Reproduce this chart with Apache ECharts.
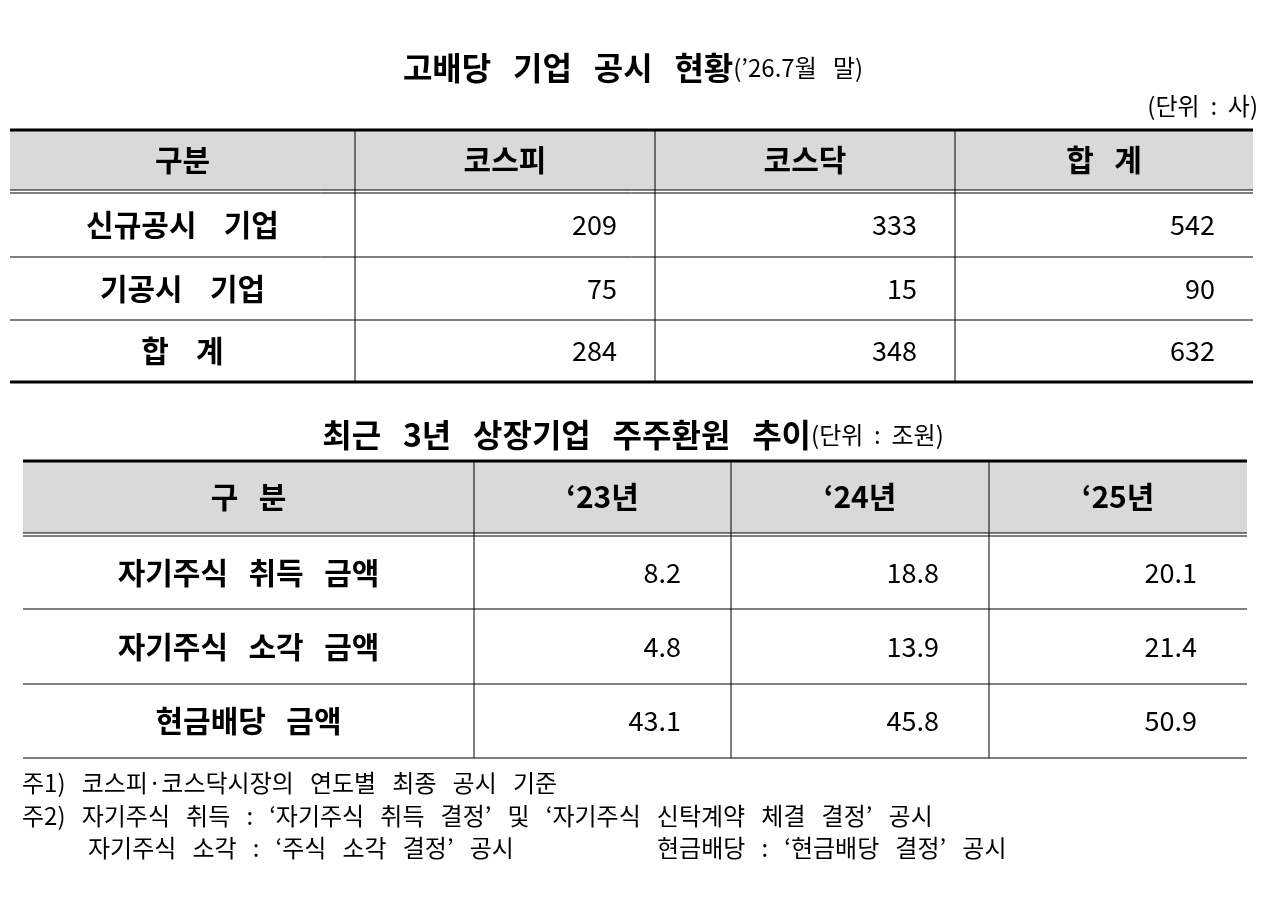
<!DOCTYPE html>
<html><head><meta charset="utf-8">
<script src="https://cdn.jsdelivr.net/npm/echarts@6/dist/echarts.min.js"></script>
<style>html,body{margin:0;padding:0;background:#fff}#c{width:1280px;height:897px}</style>
</head><body><div id="c"></div>
<script>
const t1Headers = ['구분','코스피','코스닥','합 계'];
const t1Rows = ['신규공시 기업','기공시 기업','합 계'];
const t1Kospi = [209, 75, 284];
const t1Kosdaq = [333, 15, 348];
const t1Total = [542, 90, 632];
const t2Headers = ['구 분','‘23년','‘24년','‘25년'];
const t2Rows = ['자기주식 취득 금액','자기주식 소각 금액','현금배당 금액'];
const t2Y23 = ['8.2','4.8','43.1'];
const t2Y24 = ['18.8','13.9','45.8'];
const t2Y25 = ['20.1','21.4','50.9'];
const notes = ['주1) 코스피·코스닥시장의 연도별 최종 공시 기준','주2) 자기주식 취득 : ‘자기주식 취득 결정’ 및 ‘자기주식 신탁계약 체결 결정’ 공시'];
const note3a = '자기주식 소각 : ‘주식 소각 결정’ 공시';
const note3b = '현금배당 : ‘현금배당 결정’ 공시';

const F = '"Noto Sans CJK KR","Noto Sans",sans-serif';
const sp = (s,n) => s.split(' ').join(' '.repeat(n));
const g = [];
function line(x1,y1,x2,y2,w){g.push({type:'line',shape:{x1,y1,x2,y2},style:{stroke:'#000',lineWidth:w||1}});}
function text(x,y,s,size,bold,align){g.push({type:'text',x,y,style:{text:s,font:(bold?'bold ':'')+size+'px '+F,fill:'#000',align:align||'center',verticalAlign:'middle'}});}

function table(o){
  const {x0,x1,cols,top,hb,rowsY,headers,labels,vals,rightPad}=o;
  g.push({type:'rect',shape:{x:x0,y:top,width:x1-x0,height:hb-top},style:{fill:'#d9d9d9'}});
  line(x0,top,x1,top,3);
  line(x0,hb,x1,hb,1); line(x0,hb+3,x1,hb+3,1);
  const bottom=rowsY[rowsY.length-1];
  for(let i=1;i<rowsY.length-1;i++) line(x0,rowsY[i],x1,rowsY[i],1);
  line(x0,bottom,x1,bottom,o.bottomW);
  const xs=[x0,...cols,x1];
  cols.forEach(c=>line(c,top,c,bottom,1));
  headers.forEach((h,i)=>text((xs[i]+xs[i+1])/2,(top+hb)/2,sp(h,3),30,true));
  labels.forEach((l,r)=>{
    const cy=(rowsY[r]+rowsY[r+1])/2;
    text((xs[0]+xs[1])/2,cy,sp(l,o.labelSp),30,true);
    vals.forEach((arr,c)=>text(xs[c+2]-rightPad,cy,String(arr[r]),27,false,'right'));
  });
}

g.push({type:'text',x:633,y:68,style:{rich:{a:{font:'bold 32px '+F,fill:'#000'},b:{font:'24px '+F,fill:'#000'}},text:'{a|'+sp('고배당 기업 공시 현황',3)+'}{b|'+sp('(’26.7월 말)',3)+'}',align:'center',verticalAlign:'middle'}});
text(1258,106,sp('(단위 : 사)',2),24,false,'right');
table({x0:10,x1:1253,cols:[355,655,955],top:130,hb:190,rowsY:[193,257,320,382],headers:t1Headers,labels:t1Rows,vals:[t1Kospi,t1Kosdaq,t1Total],rightPad:38,bottomW:3,labelSp:4});

g.push({type:'text',x:633,y:435,style:{rich:{a:{font:'bold 32px '+F,fill:'#000'},b:{font:'24px '+F,fill:'#000'}},text:'{a|'+sp('최근 3년 상장기업 주주환원 추이',3)+'}{b|'+sp('(단위 : 조원)',2)+'}',align:'center',verticalAlign:'middle'}});
table({x0:23,x1:1247,cols:[474,731,989],top:461,hb:533,rowsY:[536,609,684,758],headers:t2Headers,labels:t2Rows,vals:[t2Y23,t2Y24,t2Y25],rightPad:50,bottomW:1,labelSp:3});

text(22,783,sp(notes[0],3),24,false,'left');
text(22,816,sp(notes[1],3),24,false,'left');
text(88,848,sp(note3a,3),24,false,'left');
text(657,848,sp(note3b,3),24,false,'left');

const chart=echarts.init(document.getElementById('c'));
chart.setOption({animation:false,graphic:{elements:g}});
</script></body></html>
